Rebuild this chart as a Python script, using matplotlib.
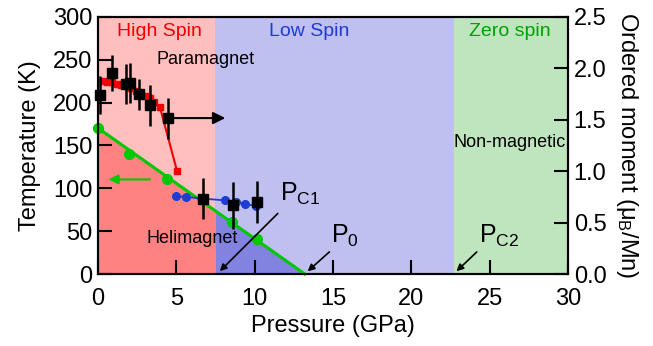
import numpy as np
import matplotlib
matplotlib.use("Agg")
import matplotlib.pyplot as plt

plt.rcParams['font.family'] = ['Liberation Sans', 'DejaVu Sans']
plt.rcParams['mathtext.fontset'] = 'custom'
plt.rcParams['mathtext.rm'] = 'Liberation Sans'
plt.rcParams['mathtext.it'] = 'Liberation Sans:italic'

# ---- data ----
# phase boundaries (GPa)
p_c1 = 7.5
p_0 = 13.2
p_c2 = 22.7
p_max = 30

# red squares: transition temperature (K)
red_P = [0.3, 0.6, 0.9, 1.2, 1.5, 1.8, 2.1, 2.4, 2.7, 3.0, 3.3, 3.6, 3.95, 5.05]
red_T = [225, 224, 224, 222, 221, 219, 217, 214, 211, 208, 205, 201, 195, 120]

# black squares with error bars (K)
blk_P = [0.13, 0.91, 1.76, 2.04, 2.62, 3.32, 4.45, 6.7, 8.6, 10.15]
blk_T = [209, 235, 222, 223, 210, 197, 182, 88, 80, 84]
blk_err = [22, 21, 23, 23, 18, 24, 24, 24, 27, 24]

# blue circles (K)
blu_P = [4.98, 5.6, 6.7, 8.1, 8.8, 9.4, 10.1]
blu_T = [91, 90, 88, 86, 84, 82, 79]

# green circles: ordered moment (muB/Mn)
grn_P = [0.0, 2.0, 4.4, 8.55, 10.15]
grn_M = [1.42, 1.17, 0.92, 0.51, 0.34]
# linear fit line of ordered moment
fit_P = [0.0, 13.2]
fit_M = [1.42, 0.0]

x_ticks = [0, 5, 10, 15, 20, 25, 30]
y_ticks = [0, 50, 100, 150, 200, 250, 300]
m_ticks = [0.0, 0.5, 1.0, 1.5, 2.0, 2.5]

# ---- figure ----
fig = plt.figure(figsize=(6.53, 3.46), dpi=100)
ax2 = fig.add_axes([0.150, 0.208, 0.720, 0.743])
ax1 = ax2.twinx()
ax1.set_zorder(ax2.get_zorder() + 1)
ax1.patch.set_visible(False)

ax2.yaxis.tick_right()
ax2.yaxis.set_label_position('right')
ax1.yaxis.tick_left()
ax1.yaxis.set_label_position('left')

ax2.set_xlim(0, p_max)
ax2.set_ylim(0, 2.5)
ax1.set_ylim(0, 300)

c_red_l = '#FFBFBF'
c_red_d = '#FF8282'
c_blu_l = '#BFBFF0'
c_blu_d = '#8282E0'
c_grn_l = '#BFE5BF'

ax2.axvspan(0, p_c1, color=c_red_l, lw=0, zorder=0)
ax2.axvspan(p_c1, p_c2, color=c_blu_l, lw=0, zorder=0)
ax2.axvspan(p_c2, p_max, color=c_grn_l, lw=0, zorder=0)

xa = np.array([0, p_c1])
ax2.fill_between(xa, 0, np.interp(xa, fit_P, fit_M), color=c_red_d, lw=0, zorder=1)
xb = np.array([p_c1, p_0])
ax2.fill_between(xb, 0, np.interp(xb, fit_P, fit_M), color=c_blu_d, lw=0, zorder=1)

green = '#00C800'
ax2.plot(fit_P, fit_M, color=green, lw=2.2, zorder=3, clip_on=False)
ax2.plot(grn_P, grn_M, 'o', color=green, ms=7, zorder=4, clip_on=False)
ax2.annotate('', xy=(0.5, grn_M[2]), xytext=(3.5, grn_M[2]),
             arrowprops=dict(arrowstyle='-|>', color=green, lw=1.5, mutation_scale=14),
             zorder=5)

# top layer
ax1.plot(red_P, red_T, 's-', color='#F00000', ms=5, lw=1.5, zorder=3)
ax1.plot(blu_P, blu_T, 'o-', color='#1E3CD2', ms=5.5, lw=1.3, zorder=3)
ax1.errorbar(blk_P, blk_T, yerr=blk_err, fmt='s', color='black', ms=7,
             elinewidth=1.8, capsize=0, zorder=4, clip_on=False)
ax1.annotate('', xy=(8.3, blk_T[6]), xytext=(blk_P[6], blk_T[6]),
             arrowprops=dict(arrowstyle='-|>', color='black', lw=1.5, mutation_scale=18),
             zorder=5)

# pressure arrows
akw = dict(arrowstyle='-|>', color='black', lw=1.2, mutation_scale=10)
ax1.annotate('', xy=(7.65, 1), xytext=(11.6, 73), arrowprops=akw)
ax1.annotate('', xy=(13.25, 1), xytext=(14.9, 28), arrowprops=akw)
ax1.annotate('', xy=(22.75, 1), xytext=(24.3, 28), arrowprops=akw)

ax1.text(11.6, 93, r'P$_{\rm C1}$', fontsize=18, ha='left', va='center')
ax1.text(14.9, 44, r'P$_{0}$', fontsize=18, ha='left', va='center')
ax1.text(24.3, 44, r'P$_{\rm C2}$', fontsize=18, ha='left', va='center')

# labels
ax1.text(3.95, 283, 'High Spin', color='#F00000', fontsize=14, ha='center', va='center')
ax1.text(13.5, 283, 'Low Spin', color='#1E3CD2', fontsize=14, ha='center', va='center')
ax1.text(26.3, 283, 'Zero spin', color='#00A000', fontsize=14, ha='center', va='center')
ax1.text(6.85, 250, 'Paramagnet', color='black', fontsize=13, ha='center', va='center')
ax1.text(6.0, 41, 'Helimagnet', color='black', fontsize=13, ha='center', va='center')
ax1.text(26.3, 154, 'Non-magnetic', color='black', fontsize=13, ha='center', va='center')

# axes styling
ax2.set_xticks(x_ticks)
ax1.set_yticks(y_ticks)
ax2.set_yticks(m_ticks)
ax2.set_yticklabels(['%.1f' % v for v in m_ticks])
for a in (ax1, ax2):
    a.tick_params(direction='in', length=10, width=1.5, labelsize=17, pad=4)
    for s in a.spines.values():
        s.set_linewidth(1.5)
ax2.tick_params(axis='x', pad=10)
ax1.set_ylabel('Temperature (K)', fontsize=17, labelpad=9)
ax2.set_xlabel('Pressure (GPa)', fontsize=17, labelpad=4)
ax2.set_ylabel(r'Ordered moment ($\mathrm{\mu_B}$/Mn)', fontsize=17,
               rotation=270, labelpad=24)

fig.savefig('out.png', dpi=100)
